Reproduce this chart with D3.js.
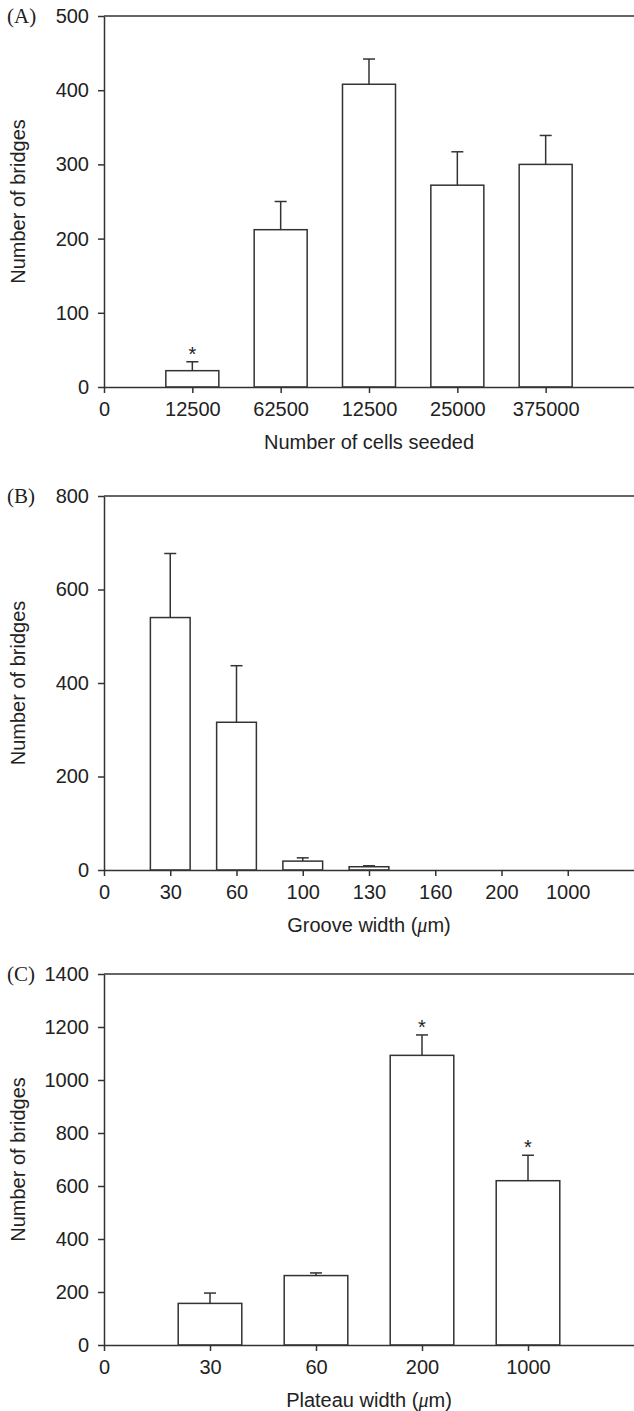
<!DOCTYPE html>
<html>
<head>
<meta charset="utf-8">
<script src="https://cdn.jsdelivr.net/npm/d3@7"></script>
<style>
  body { margin: 0; background: #fff; }
  svg text { font-family: "Liberation Sans", Arial, sans-serif; fill: #222; }
</style>
</head>
<body>
<svg id="canvas"></svg>
<script>
// panel A - cells seeded
const seededLabels = ["0", "12500", "62500", "12500", "25000", "375000"];
const seededValues = [22, 212, 408, 272, 300];
const seededErrors = [12, 38, 34, 45, 39];
const seededStars = [true, false, false, false, false];
const seededTicks = [0, 100, 200, 300, 400, 500];

// panel B - groove width
const grooveLabels = ["0", "30", "60", "100", "130", "160", "200", "1000"];
const grooveValues = [540, 316, 19, 7, 0, 0, 0];
const grooveErrors = [137, 121, 7, 2, 0, 0, 0];
const grooveStars = [false, false, false, false, false, false, false];
const grooveTicks = [0, 200, 400, 600, 800];

// panel C - plateau width
const plateauLabels = ["0", "30", "60", "200", "1000"];
const plateauValues = [157, 262, 1093, 620];
const plateauErrors = [39, 10, 77, 96];
const plateauStars = [false, false, true, true];
const plateauTicks = [0, 200, 400, 600, 800, 1000, 1200, 1400];

const svg = d3.select("#canvas")
    .attr("width", 634)
    .attr("height", 1411);

const left = 104;
const right = 634;
const ink = "#333";
const fontSize = "20px";

const drawPanel = (opts) => {
    const { tag, labels, values, errors, stars, ticks, xMax, top, bottom, title, unit } = opts;
    const g = svg.append("g");

    const x = d3.scaleLinear()
        .domain([0, xMax])
        .range([left, right]);

    const y = d3.scaleLinear()
        .domain([0, ticks[ticks.length - 1]])
        .range([bottom, top]);

    const barWidth = x(0.6) - x(0);

    // bars
    g.selectAll("rect.bar")
        .data(values)
        .enter()
        .append("rect")
        .attr("class", "bar")
        .attr("x", (d, i) => x(i + 1) - barWidth / 2)
        .attr("y", d => y(d))
        .attr("width", barWidth)
        .attr("height", d => y(0) - y(d))
        .style("fill", "#fff")
        .style("stroke", ink)
        .style("stroke-width", 1.5);

    // error bars, upper half only
    const err = g.selectAll("g.err")
        .data(values.map((v, i) => ({ i, v, e: errors[i] })).filter(d => d.e > 0))
        .enter()
        .append("g");

    err.append("line")
        .attr("x1", d => x(d.i + 1))
        .attr("x2", d => x(d.i + 1))
        .attr("y1", d => y(d.v))
        .attr("y2", d => y(d.v + d.e))
        .style("stroke", ink)
        .style("stroke-width", 1.5);

    err.append("line")
        .attr("x1", d => x(d.i + 1) - 6)
        .attr("x2", d => x(d.i + 1) + 6)
        .attr("y1", d => y(d.v + d.e))
        .attr("y2", d => y(d.v + d.e))
        .style("stroke", ink)
        .style("stroke-width", 1.5);

    // significance marks
    g.selectAll("text.star")
        .data(values.map((v, i) => ({ i, v, e: errors[i], s: stars[i] })).filter(d => d.s))
        .enter()
        .append("text")
        .attr("x", d => x(d.i + 1))
        .attr("y", d => y(d.v + d.e) - 1)
        .attr("text-anchor", "middle")
        .style("font-size", fontSize)
        .text("*");

    // top frame line
    g.append("line")
        .attr("x1", left)
        .attr("x2", right)
        .attr("y1", top)
        .attr("y2", top)
        .style("stroke", ink)
        .style("stroke-width", 1.5);

    const yAxis = g.append("g")
        .attr("transform", "translate(" + left + ",0)")
        .call(d3.axisLeft(y)
            .tickValues(ticks)
            .tickFormat(d3.format("d"))
            .tickSize(6)
            .tickSizeOuter(0)
            .tickPadding(9));

    const xAxis = g.append("g")
        .attr("transform", "translate(0," + bottom + ")")
        .call(d3.axisBottom(x)
            .tickValues(d3.range(labels.length))
            .tickFormat(i => labels[i])
            .tickSize(6)
            .tickSizeOuter(0)
            .tickPadding(9));

    [yAxis, xAxis].forEach(a => {
        a.selectAll("path, line").style("stroke", ink).style("stroke-width", 1.5);
        a.selectAll("text").style("font-size", fontSize).style("fill", "#222");
    });

    // panel tag
    g.append("text")
        .attr("x", 7)
        .attr("y", top + 7)
        .style("font-family", "'Liberation Serif', 'Times New Roman', serif")
        .style("font-size", "21px")
        .text(tag);

    // y title
    g.append("text")
        .attr("transform", "translate(25," + (top + bottom) / 2 + ") rotate(-90)")
        .attr("text-anchor", "middle")
        .style("font-size", fontSize)
        .text("Number of bridges");

    // x title
    const xt = g.append("text")
        .attr("x", (left + right) / 2)
        .attr("y", bottom + 62)
        .attr("text-anchor", "middle")
        .style("font-size", fontSize);

    if (unit) {
        xt.append("tspan").text(title + " (");
        xt.append("tspan").style("font-style", "italic").style("font-family", "'Liberation Serif', serif").text("\u03bc");
        xt.append("tspan").text("m)");
    } else {
        xt.text(title);
    }
}

drawPanel({
    tag: "(A)", labels: seededLabels, values: seededValues, errors: seededErrors,
    stars: seededStars, ticks: seededTicks, xMax: 6, top: 16, bottom: 387,
    title: "Number of cells seeded", unit: false
});

drawPanel({
    tag: "(B)", labels: grooveLabels, values: grooveValues, errors: grooveErrors,
    stars: grooveStars, ticks: grooveTicks, xMax: 8, top: 496, bottom: 870,
    title: "Groove width", unit: true
});

drawPanel({
    tag: "(C)", labels: plateauLabels, values: plateauValues, errors: plateauErrors,
    stars: plateauStars, ticks: plateauTicks, xMax: 5, top: 974, bottom: 1345,
    title: "Plateau width", unit: true
});
</script>
</body>
</html>
